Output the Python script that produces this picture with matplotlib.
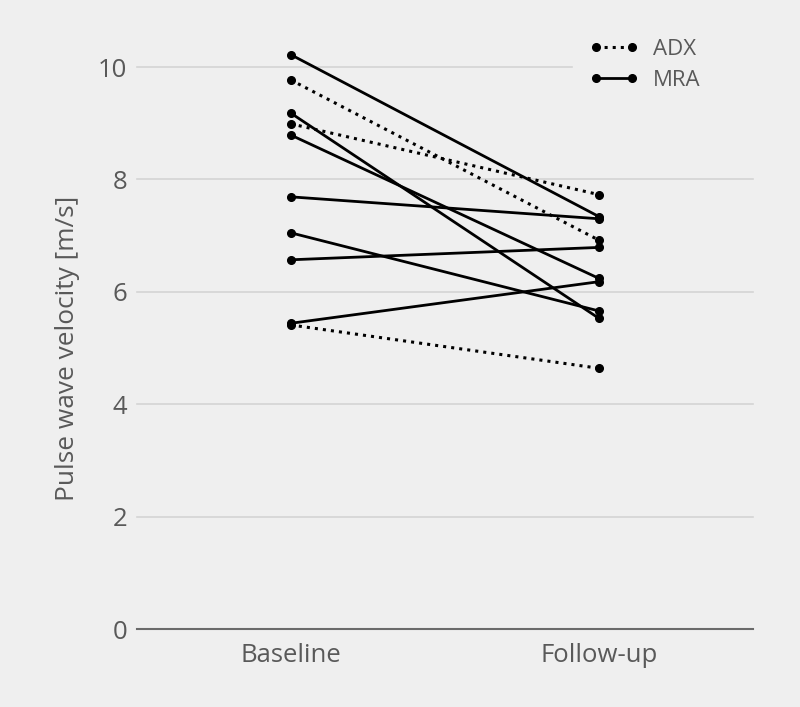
import matplotlib
matplotlib.use("Agg")
import matplotlib.pyplot as plt
from matplotlib.lines import Line2D

categories = ["Baseline", "Follow-up"]
groups = ["MRA", "ADX", "MRA", "ADX", "MRA", "MRA", "MRA", "MRA", "MRA", "ADX"]
baseline = [10.22, 9.77, 9.18, 8.99, 8.79, 7.69, 7.05, 6.57, 5.44, 5.41]
followup = [7.34, 6.92, 5.53, 7.73, 6.24, 7.30, 5.66, 6.79, 6.18, 4.64]
yticks = [0, 2, 4, 6, 8, 10]

plt.rcParams['font.family'] = ['Open Sans', 'DejaVu Sans']
bg = "#efefef"
txt = "#595959"

fig = plt.figure(figsize=(8, 7.07), dpi=100, facecolor=bg)
ax = fig.add_axes([0.171, 0.1103, 0.77, 0.7949], facecolor=bg)

# gridlines (top one interrupted by the legend area)
for yv in yticks[1:]:
    xmax = 0.706 if yv == yticks[-1] else 1.0
    ax.axhline(yv, xmin=0, xmax=xmax, color="#d4d4d4", lw=1.2, zorder=1,
               clip_on=False)

styles = {"ADX": ":", "MRA": "-"}
for g, b, f in zip(groups, baseline, followup):
    ax.plot([0, 1], [b, f], linestyle=styles[g], color="black",
            lw=2.0 if g == "MRA" else 2.2, marker="o", markersize=5.5,
            clip_on=False, zorder=3)

ax.set_xlim(-0.5, 1.5)
ax.set_ylim(0, 10)
ax.set_yticks(yticks)
ax.set_xticks([0, 1])
ax.set_xticklabels(categories)
ax.tick_params(axis="both", length=0, labelsize=18.5, colors=txt)
ax.tick_params(axis="y", pad=7)
ax.tick_params(axis="x", pad=10)
for s in ["top", "right", "left"]:
    ax.spines[s].set_visible(False)
ax.spines["bottom"].set_color("#6a6a6a")
ax.spines["bottom"].set_linewidth(1.5)
ax.set_ylabel("Pulse wave velocity [m/s]", fontsize=18.9, color=txt, labelpad=13)

handles = [
    Line2D([0], [0], color="black", linestyle=":", lw=2.2, marker="o", markersize=5.5),
    Line2D([0], [0], color="black", linestyle="-", lw=2.0, marker="o", markersize=5.5),
]
leg = fig.legend(handles, ["ADX", "MRA"], loc="upper right",
                 bbox_to_anchor=(0.906, 0.980), frameon=False, fontsize=16,
                 handlelength=2.2, labelspacing=0.45, borderpad=0.6,
                 handletextpad=0.65, numpoints=2)
for t in leg.get_texts():
    t.set_color(txt)

fig.savefig("out.png", dpi=100, facecolor=bg)
